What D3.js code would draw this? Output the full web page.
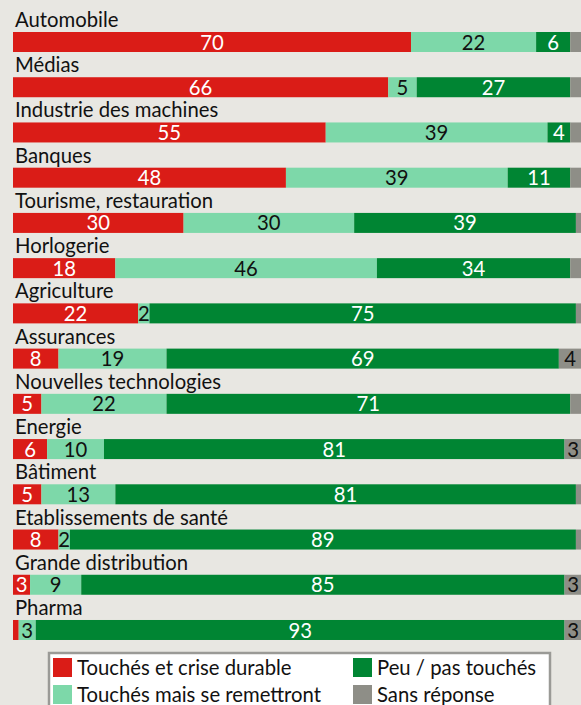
<!DOCTYPE html>
<html>
<head>
<meta charset="utf-8">
<script src="https://cdn.jsdelivr.net/npm/d3@7"></script>
<style>
body { margin: 0; background: #e8e7e2; }
svg { display: block; font-family: Lato, "Open Sans", sans-serif; }
</style>
</head>
<body>
<script>
var width = 581, height = 705;

// Sectors (top to bottom)
var categories = ["Automobile", "Médias", "Industrie des machines", "Banques",
	"Tourisme, restauration", "Horlogerie", "Agriculture", "Assurances",
	"Nouvelles technologies", "Energie", "Bâtiment", "Etablissements de santé",
	"Grande distribution", "Pharma"];

// Percentages per series
var crise       = [70, 66, 55, 48, 30, 18, 22,  8,  5,  6,  5,  8,  3,  1];
var remettront  = [22,  5, 39, 39, 30, 46,  2, 19, 22, 10, 13,  2,  9,  3];
var peuTouches  = [ 6, 27,  4, 11, 39, 34, 75, 69, 71, 81, 81, 89, 85, 93];
var sansReponse = [ 2,  2,  2,  2,  1,  2,  1,  4,  2,  3,  1,  1,  3,  3];

var seriesNames = ["Touchés et crise durable", "Touchés mais se remettront",
	"Peu / pas touchés", "Sans réponse"];
var colors = ["#da1c17", "#7dd8a9", "#008533", "#8e8e87"];
var textColors = ["#fff", "#111", "#fff", "#111"];
var minLabel = [2, 2, 2, 3];

var keys = ["crise", "remettront", "peu", "sans"];
var data = categories.map(function(c, i) {
	return {cat: c, crise: crise[i], remettront: remettront[i], peu: peuTouches[i], sans: sansReponse[i]};
});

var svg = d3.select("body").append("svg")
	.attr("width", width)
	.attr("height", height);

var x = d3.scaleLinear().domain([0, 100]).range([13, 13 + 568.6]);

var step = 45.23, barH = 20;
var y = d3.scaleBand()
	.domain(categories)
	.range([32, 32 + step * (categories.length - (1 - barH / step))])
	.paddingInner(1 - barH / step)
	.paddingOuter(0);

var stacked = d3.stack().keys(keys)(data);

// Category labels
svg.selectAll(".cat")
	.data(categories)
	.enter().append("text")
	.attr("class", "cat")
	.attr("x", 15)
	.attr("y", function(d) { return y(d) - 5; })
	.style("font-size", "20.3px")
	.style("fill", "#111")
	.text(function(d) { return d; });

// Bars
var layers = svg.selectAll(".layer")
	.data(stacked)
	.enter().append("g")
	.attr("class", "layer");

layers.selectAll("rect")
	.data(function(s) { return s.map(function(d) { return {s: s.index, d: d}; }); })
	.enter().append("rect")
	.attr("x", function(o) { return x(o.d[0]); })
	.attr("y", function(o) { return y(o.d.data.cat); })
	.attr("width", function(o) { return x(o.d[1]) - x(o.d[0]); })
	.attr("height", y.bandwidth())
	.attr("fill", function(o) { return colors[o.s]; });

layers.selectAll("text")
	.data(function(s) {
		return s.map(function(d) { return {s: s.index, d: d, v: d[1] - d[0]}; })
			.filter(function(o) { return o.v >= minLabel[o.s]; });
	})
	.enter().append("text")
	.attr("x", function(o) { return (x(o.d[0]) + x(o.d[1])) / 2; })
	.attr("y", function(o) { return y(o.d.data.cat) + y.bandwidth() / 2; })
	.attr("dy", "0.37em")
	.attr("text-anchor", "middle")
	.style("font-size", "20.3px")
	.style("fill", function(o) { return textColors[o.s]; })
	.text(function(o) { return o.v; });

// Legend
var legend = svg.append("g");
legend.append("rect")
	.attr("x", 49)
	.attr("y", 653)
	.attr("width", 501)
	.attr("height", 70)
	.attr("fill", "#fff")
	.attr("stroke", "#9a9a96")
	.attr("stroke-width", 2.5);

var legPos = [[53, 658], [53, 685], [353, 658], [353, 685]];
var items = legend.selectAll(".item")
	.data(seriesNames)
	.enter().append("g")
	.attr("class", "item")
	.attr("transform", function(d, i) { return "translate(" + legPos[i][0] + "," + legPos[i][1] + ")"; });

items.append("rect")
	.attr("width", 19)
	.attr("height", 19)
	.attr("fill", function(d, i) { return colors[i]; });

items.append("text")
	.attr("x", 24)
	.attr("y", 17)
	.style("font-size", "20.3px")
	.style("fill", "#111")
	.text(function(d) { return d; });
</script>
</body>
</html>
